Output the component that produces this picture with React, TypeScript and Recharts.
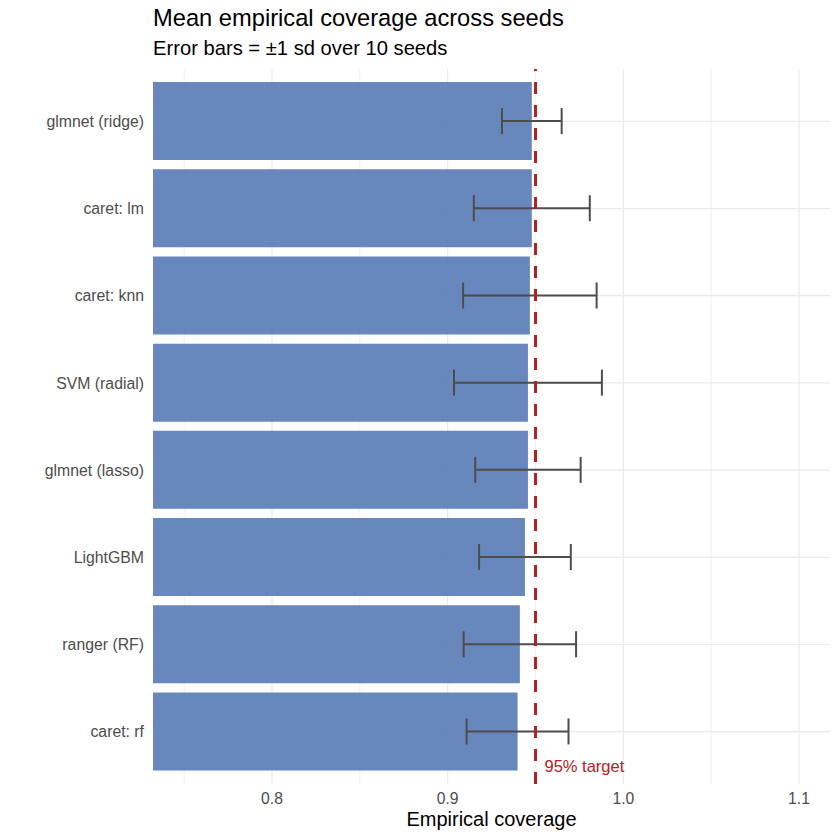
import React from 'react'
import { Bar, BarChart, CartesianGrid, ErrorBar, ReferenceLine, XAxis, YAxis } from 'recharts';

// models, top to bottom
const models = [
  'glmnet (ridge)',
  'caret: lm',
  'caret: knn',
  'SVM (radial)',
  'glmnet (lasso)',
  'LightGBM',
  'ranger (RF)',
  'caret: rf',
];

// mean coverage over seeds
const meanCoverage = [0.9479, 0.9479, 0.9468, 0.9457, 0.9457, 0.944, 0.9411, 0.9398];

// sd of coverage over 10 seeds
const sdCoverage = [0.017, 0.033, 0.038, 0.0421, 0.03, 0.0261, 0.032, 0.029];

const majorTicks = [0.8, 0.9, 1.0, 1.1];
const minorTicks = [0.75, 0.85, 0.95, 1.05];
const target = 0.95;

const xDomain = [0.73226, 1.11765];
const yPad = 8.7;

const data = models.map((model, i) => ({
  model,
  coverage: meanCoverage[i],
  sd: sdCoverage[i],
}));

const font = 'Liberation Sans, Arial, sans-serif';

const TargetLabel = (props: any) => {
  const { viewBox } = props;
  return (
    <text x={viewBox.x + 9} y={viewBox.y + viewBox.height - 12} fill="#b22222" fontSize={16.5} fontFamily={font}>
      95% target
    </text>
  );
};

// grid lines only at the tick values / category centres, no panel edges
const xGrid = (values: number[]) => ({ xAxis, offset }: any) =>
  values.map((v) =>
    typeof xAxis?.scale === 'function'
      ? xAxis.scale(v)
      : offset.left + ((v - xDomain[0]) / (xDomain[1] - xDomain[0])) * offset.width
  );

const yGrid = ({ offset }: any) => {
  const band = (offset.height - 2 * yPad) / models.length;
  return models.map((_, i) => offset.top + yPad + (i + 0.5) * band);
};

export default function App() {
  return (
    <div style={{ position: 'absolute', left: 0, top: 0, width: 840, height: 840, background: '#fff', fontFamily: font }}>
      <div style={{ position: 'absolute', left: 153, top: 5, fontSize: 23.7, color: '#000', whiteSpace: 'nowrap' }}>
        Mean empirical coverage across seeds
      </div>
      <div style={{ position: 'absolute', left: 153, top: 37, fontSize: 20.2, color: '#000', whiteSpace: 'nowrap' }}>
        Error bars = ±1 sd over 10 seeds
      </div>
      <BarChart
        width={840}
        height={840}
        data={data}
        layout="vertical"
        margin={{ top: 69, right: 10, bottom: 0, left: 0 }}
        barCategoryGap="5%"
        style={{ position: 'absolute', left: 0, top: 0 }}
      >
        <CartesianGrid
          stroke="#f2f2f2"
          strokeWidth={1}
          horizontal={false}
          verticalCoordinatesGenerator={xGrid(minorTicks)}
        />
        <CartesianGrid
          stroke="#ebebeb"
          strokeWidth={1.2}
          verticalCoordinatesGenerator={xGrid(majorTicks)}
          horizontalCoordinatesGenerator={yGrid}
        />
        <XAxis
          type="number"
          domain={xDomain}
          allowDataOverflow
          ticks={majorTicks}
          height={56}
          tickFormatter={(v: number) => v.toFixed(1)}
          axisLine={false}
          tickLine={false}
          tickSize={0}
          tickMargin={9}
          tick={{ fill: '#4d4d4d', fontSize: 15.7, fontFamily: font }}
        />
        <YAxis
          type="category"
          dataKey="model"
          width={153}
          axisLine={false}
          tickLine={false}
          tickSize={0}
          tickMargin={9}
          padding={{ top: yPad, bottom: yPad }}
          tick={{ fill: '#4d4d4d', fontSize: 15.8, fontFamily: font }}
        />
        <Bar dataKey="coverage" fill="#567ab6" fillOpacity={0.9} isAnimationActive={false}>
          <ErrorBar dataKey="sd" direction="x" width={13} stroke="#4d4d4d" strokeWidth={2} />
        </Bar>
        <ReferenceLine
          x={target}
          stroke="#b22222"
          strokeWidth={3}
          strokeDasharray="12 11"
          label={<TargetLabel />}
        />
      </BarChart>
      <div style={{ position: 'absolute', left: 0, width: 983, top: 808, textAlign: 'center', fontSize: 20, color: '#000' }}>
        Empirical coverage
      </div>
    </div>
  );
}
